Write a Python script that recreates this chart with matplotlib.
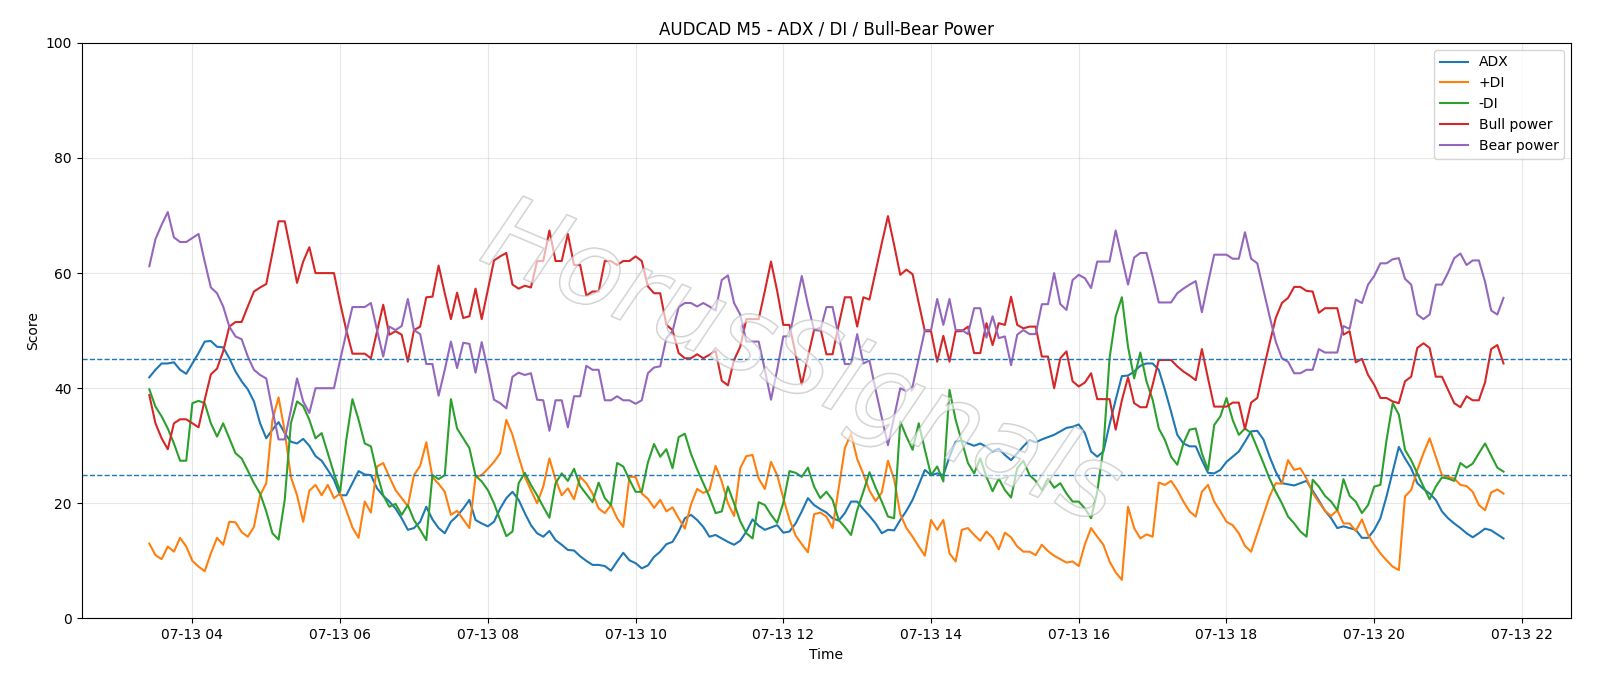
#AUDCAD M5 indicator chart
#ADX, +DI, -DI and bull/bear power, one reading every 5 minutes

import numpy as np
import pandas as pd
import matplotlib
matplotlib.use("Agg")
import matplotlib.pyplot as plt
import matplotlib.dates as mdates
import matplotlib.patheffects as pe

START = "2024-07-13 03:25"

#ADX values, 10 per row
adx = [
	41.9, 43.2, 44.3, 44.3, 44.5, 43.2, 42.5, 44.3, 46.1, 48.1,
	48.2, 47.2, 47.1, 45.2, 42.9, 41.2, 39.8, 37.7, 33.9, 31.3,
	32.8, 34.1, 32.2, 30.7, 30.4, 31.2, 30.0, 28.2, 27.4, 25.8,
	24.1, 21.4, 21.4, 23.5, 25.6, 25.0, 24.9, 22.6, 21.3, 20.3,
	19.1, 17.4, 15.4, 15.7, 16.8, 19.4, 17.2, 15.7, 14.8, 16.8,
	17.8, 19.1, 20.6, 17.1, 16.5, 16.0, 16.8, 19.1, 20.9, 22.0,
	20.6, 18.3, 16.2, 14.8, 14.2, 15.2, 13.6, 12.8, 11.9, 11.8,
	10.8, 10.0, 9.3, 9.3, 9.1, 8.3, 9.9, 11.4, 10.1, 9.6,
	8.7, 9.2, 10.7, 11.6, 12.9, 13.3, 15.1, 17.4, 18.0, 17.1,
	15.9, 14.2, 14.5, 13.9, 13.3, 12.8, 13.5, 15.1, 17.2, 16.1,
	15.4, 15.8, 16.2, 14.9, 15.1, 16.5, 18.6, 20.9, 19.7, 19.0,
	18.4, 17.4, 17.0, 18.3, 20.3, 20.3, 19.0, 17.8, 16.5, 14.8,
	15.4, 15.3, 17.1, 18.7, 20.6, 23.2, 25.8, 24.9, 25.2, 24.9,
	28.1, 30.7, 30.9, 30.4, 30.0, 30.4, 29.8, 29.0, 29.5, 28.4,
	27.5, 28.7, 29.9, 31.0, 30.6, 31.1, 31.5, 31.9, 32.5, 33.1,
	33.3, 33.7, 32.2, 29.0, 28.1, 29.0, 33.7, 38.0, 42.1, 42.2,
	42.9, 43.9, 44.3, 44.3, 43.2, 39.7, 35.9, 31.9, 30.4, 29.9,
	29.9, 27.5, 25.3, 25.2, 25.8, 27.2, 28.1, 29.0, 30.7, 32.5,
	32.6, 31.1, 28.1, 25.5, 23.5, 23.3, 23.1, 23.5, 23.9, 22.2,
	20.5, 18.7, 17.4, 15.7, 16.0, 15.7, 15.4, 14.0, 14.0, 15.4,
	17.4, 21.2, 25.5, 29.8, 27.8, 26.1, 23.5, 22.5, 21.7, 20.6,
	18.6, 17.4, 16.5, 15.7, 14.8, 14.1, 14.8, 15.6, 15.3, 14.6,
	13.9,
]

plus_di = [
	13.0, 11.0, 10.3, 12.5, 11.6, 14.0, 12.5, 10.0, 9.0, 8.2,
	11.3, 14.0, 12.8, 16.8, 16.7, 15.0, 14.2, 15.9, 21.4, 23.5,
	34.5, 38.4, 32.5, 24.6, 21.4, 16.8, 22.2, 23.2, 21.4, 23.2,
	20.9, 21.7, 18.8, 15.8, 14.0, 20.3, 18.4, 26.4, 27.0, 24.6,
	22.3, 20.9, 19.5, 24.9, 26.5, 30.6, 24.5, 23.4, 22.0, 18.0,
	18.7, 17.2, 15.7, 24.6, 24.9, 26.0, 27.2, 28.7, 34.5, 31.9,
	28.1, 24.6, 22.3, 20.0, 22.9, 27.8, 24.1, 21.4, 22.6, 20.7,
	24.6, 23.5, 21.7, 19.1, 18.3, 19.7, 17.4, 15.9, 24.6, 24.6,
	21.7, 20.8, 19.2, 20.6, 18.6, 19.3, 17.4, 15.6, 19.8, 22.5,
	21.8, 22.3, 26.5, 23.8, 20.0, 17.8, 26.1, 28.2, 28.4, 24.3,
	22.5, 27.2, 24.9, 20.9, 17.2, 14.4, 12.9, 11.5, 18.1, 18.4,
	17.7, 15.7, 22.6, 29.6, 32.1, 27.7, 25.1, 22.2, 20.4, 21.9,
	27.4, 24.2, 18.1, 15.7, 14.2, 12.5, 10.9, 17.1, 15.4, 17.1,
	11.3, 9.9, 15.4, 15.7, 14.5, 13.5, 15.1, 14.0, 12.0, 14.9,
	14.1, 12.5, 11.6, 11.6, 11.0, 12.8, 11.7, 10.9, 10.3, 9.7,
	9.9, 9.1, 12.9, 15.7, 14.2, 12.8, 9.9, 8.0, 6.7, 19.4,
	15.7, 13.9, 14.6, 14.2, 23.6, 23.2, 23.9, 22.3, 20.3, 18.6,
	17.7, 22.0, 23.2, 20.3, 18.6, 16.8, 16.2, 14.8, 12.6, 11.6,
	14.8, 18.0, 21.2, 23.5, 23.4, 27.5, 25.8, 26.1, 24.3, 21.8,
	20.2, 18.7, 17.8, 18.8, 16.5, 16.5, 15.2, 17.2, 14.5, 12.8,
	11.3, 10.1, 9.0, 8.4, 21.2, 22.3, 25.8, 28.7, 31.3, 28.1,
	24.9, 24.6, 24.3, 23.2, 23.0, 22.0, 19.7, 18.8, 21.9, 22.4,
	21.7,
]

minus_di = [
	39.8, 36.8, 35.1, 33.0, 30.4, 27.4, 27.4, 37.4, 37.8, 37.4,
	33.9, 31.6, 33.9, 31.3, 28.7, 27.8, 25.7, 23.5, 21.7, 18.6,
	14.8, 13.7, 20.6, 33.9, 37.7, 36.9, 34.5, 31.3, 32.2, 28.7,
	25.2, 22.0, 31.0, 38.1, 34.5, 30.4, 29.9, 25.2, 21.4, 19.4,
	19.9, 18.0, 19.7, 17.1, 15.4, 13.6, 24.9, 24.2, 24.9, 38.1,
	33.0, 31.3, 29.6, 24.8, 23.8, 22.3, 20.0, 17.1, 14.3, 15.1,
	23.5, 25.3, 23.2, 21.4, 19.4, 17.5, 23.5, 25.2, 23.9, 26.0,
	23.0, 21.6, 20.2, 23.6, 20.9, 19.7, 27.0, 26.4, 24.1, 22.0,
	22.0, 27.1, 30.3, 28.1, 29.4, 26.1, 31.5, 32.1, 28.6, 25.9,
	23.5, 21.1, 18.3, 18.6, 22.9, 20.0, 16.9, 14.8, 13.9, 20.2,
	19.7, 18.0, 16.6, 20.1, 25.6, 25.3, 24.6, 26.2, 22.9, 20.9,
	22.0, 20.6, 17.1, 15.9, 14.5, 18.8, 22.0, 25.4, 22.7, 20.3,
	17.7, 17.4, 34.2, 31.6, 29.3, 33.9, 29.3, 24.9, 26.4, 23.8,
	39.7, 34.5, 30.7, 27.0, 25.2, 27.8, 24.6, 22.1, 24.3, 22.3,
	21.0, 26.1, 27.4, 24.9, 23.9, 22.3, 24.3, 22.7, 23.5, 21.7,
	20.3, 20.3, 19.1, 17.4, 22.0, 29.6, 45.2, 52.5, 55.8, 47.2,
	41.7, 46.2, 41.2, 38.0, 33.0, 31.0, 28.1, 26.7, 30.4, 32.8,
	33.0, 28.7, 25.8, 33.6, 35.1, 38.3, 34.5, 31.9, 33.0, 32.2,
	29.6, 27.0, 24.3, 22.0, 20.0, 17.7, 16.5, 15.1, 14.2, 24.1,
	22.9, 21.3, 20.3, 18.8, 24.2, 21.3, 20.3, 18.3, 19.7, 22.9,
	23.2, 31.0, 37.4, 35.4, 29.3, 27.5, 25.2, 22.9, 20.7, 22.9,
	24.5, 24.3, 23.9, 27.0, 26.2, 26.9, 28.7, 30.4, 28.3, 26.2,
	25.5,
]

bull = [
	38.8, 33.9, 31.3, 29.4, 33.9, 34.6, 34.6, 33.9, 33.2, 38.0,
	42.4, 43.4, 46.4, 50.7, 51.5, 51.5, 54.2, 56.8, 57.5, 58.1,
	63.5, 69.0, 69.0, 63.8, 58.3, 62.0, 64.5, 60.0, 60.0, 60.0,
	60.0, 54.8, 50.1, 46.0, 46.0, 46.0, 45.2, 49.9, 54.5, 49.3,
	49.9, 49.3, 44.6, 50.1, 50.7, 55.8, 55.9, 61.3, 56.5, 52.0,
	56.6, 52.2, 52.5, 57.3, 52.0, 57.1, 62.2, 62.9, 63.5, 58.0,
	57.3, 57.8, 57.5, 62.1, 62.1, 67.4, 62.1, 62.1, 66.8, 61.4,
	61.4, 56.1, 56.8, 56.8, 62.1, 62.1, 61.4, 62.1, 62.1, 62.9,
	62.1, 57.7, 56.5, 56.5, 51.0, 50.1, 46.1, 45.2, 45.2, 45.9,
	45.2, 45.8, 46.5, 41.3, 40.5, 44.9, 47.2, 52.0, 52.0, 52.0,
	56.9, 62.0, 56.9, 51.0, 51.0, 45.9, 40.6, 45.5, 50.1, 50.5,
	45.9, 45.9, 51.0, 55.8, 55.8, 50.7, 55.8, 55.4, 60.3, 65.2,
	69.9, 64.9, 59.7, 60.6, 59.8, 54.8, 49.9, 49.9, 44.6, 49.1,
	44.6, 49.9, 49.9, 50.7, 46.1, 46.1, 51.3, 47.5, 51.3, 51.0,
	55.9, 51.0, 50.4, 50.7, 50.7, 45.5, 45.5, 40.0, 45.2, 46.4,
	41.2, 40.3, 41.0, 42.6, 38.1, 38.1, 38.1, 32.8, 37.9, 41.9,
	37.4, 36.7, 36.7, 40.6, 44.9, 44.9, 44.9, 43.8, 42.9, 42.2,
	41.4, 46.8, 41.7, 36.8, 36.8, 36.8, 37.5, 37.5, 32.9, 37.5,
	38.3, 43.2, 47.8, 52.2, 54.8, 55.7, 57.6, 57.6, 56.9, 56.8,
	53.1, 53.9, 53.9, 53.9, 49.3, 49.9, 44.5, 45.1, 42.3, 40.6,
	38.3, 38.3, 37.7, 37.4, 41.2, 42.0, 47.0, 47.8, 47.0, 42.0,
	42.0, 39.7, 37.4, 36.7, 38.6, 37.9, 37.9, 41.0, 46.8, 47.5,
	44.3,
]

bear = [
	61.2, 65.9, 68.4, 70.6, 66.2, 65.4, 65.4, 66.1, 66.8, 62.0,
	57.5, 56.5, 54.2, 50.7, 49.0, 48.5, 45.5, 43.2, 42.3, 41.7,
	36.2, 31.1, 31.1, 36.2, 41.7, 37.7, 35.7, 40.0, 40.0, 40.0,
	40.0, 44.9, 49.6, 54.1, 54.1, 54.1, 54.8, 50.1, 45.5, 50.7,
	50.1, 50.8, 55.5, 50.1, 49.4, 44.2, 44.2, 38.7, 43.2, 48.1,
	43.5, 47.9, 47.7, 42.7, 48.0, 43.2, 38.0, 37.4, 36.5, 42.0,
	42.7, 42.3, 42.6, 38.0, 37.9, 32.6, 37.9, 37.9, 33.2, 38.6,
	38.6, 43.9, 43.2, 43.2, 37.9, 37.9, 38.6, 37.9, 37.9, 37.3,
	37.9, 42.6, 43.6, 43.8, 48.7, 49.9, 54.1, 54.8, 54.8, 54.2,
	54.8, 54.2, 53.5, 58.8, 59.6, 54.8, 52.8, 48.1, 48.1, 48.1,
	43.2, 38.0, 43.2, 49.0, 49.0, 54.3, 59.5, 54.5, 50.1, 50.0,
	54.1, 54.1, 49.0, 44.2, 44.2, 49.4, 44.3, 44.8, 39.7, 34.9,
	30.1, 35.0, 40.0, 39.5, 40.3, 45.2, 50.1, 50.1, 55.5, 51.0,
	55.5, 50.1, 50.1, 49.4, 53.9, 53.9, 48.8, 52.5, 48.7, 49.0,
	44.0, 49.3, 50.1, 49.4, 49.4, 54.6, 54.6, 60.0, 54.6, 53.6,
	58.8, 59.7, 59.1, 57.4, 62.0, 62.0, 62.0, 67.4, 62.7, 58.0,
	62.7, 63.5, 63.5, 59.4, 54.9, 54.9, 54.9, 56.5, 57.3, 58.0,
	58.6, 53.2, 58.3, 63.2, 63.2, 63.2, 62.5, 62.5, 67.1, 62.5,
	61.7, 57.1, 52.5, 48.1, 45.2, 44.6, 42.6, 42.6, 43.2, 43.2,
	46.8, 46.2, 46.2, 46.2, 50.8, 50.3, 55.4, 54.8, 58.0, 59.5,
	61.7, 61.7, 62.4, 62.6, 59.0, 58.0, 52.8, 52.0, 52.8, 58.0,
	58.0, 60.1, 62.6, 63.4, 61.4, 62.2, 62.2, 58.5, 53.5, 52.8,
	55.7,
]

#threshold lines
levels = [45, 25]


def times(n):
	return pd.date_range(START, periods=n, freq="5min")


def graph():
	fig = plt.figure(figsize=(16, 6.86), dpi=100)
	ax = fig.add_axes([0.051, 0.0985, 0.931, 0.839])

	ax.plot(times(len(adx)), adx, label="ADX")
	ax.plot(times(len(plus_di)), plus_di, label="+DI")
	ax.plot(times(len(minus_di)), minus_di, label="-DI")
	ax.plot(times(len(bull)), bull, label="Bull power")
	ax.plot(times(len(bear)), bear, label="Bear power")

	for lv in levels:
		ax.axhline(lv, linestyle="--", linewidth=1)

	ax.set_ylim(0, 100)
	ax.xaxis.set_major_locator(mdates.HourLocator(interval=2))
	ax.xaxis.set_major_formatter(mdates.DateFormatter("%m-%d %H"))
	ax.grid(True, alpha=0.3)
	ax.set_title("AUDCAD M5 - ADX / DI / Bull-Bear Power")
	ax.set_xlabel("Time")
	ax.set_ylabel("Score")
	ax.legend(loc="upper right")

	#watermark, hollow grey letters on top of the lines
	ax.text(0.483, 0.44, "HorusSignals", transform=ax.transAxes,
		fontsize=75, style="italic", rotation=-23,
		ha="center", va="center", color=(1, 1, 1, 0.4), zorder=10,
		path_effects=[pe.withStroke(linewidth=1.2, foreground=(0.68, 0.68, 0.68, 0.6))])

	fig.savefig("out.png", dpi=100)


if __name__ == "__main__":
	graph()
